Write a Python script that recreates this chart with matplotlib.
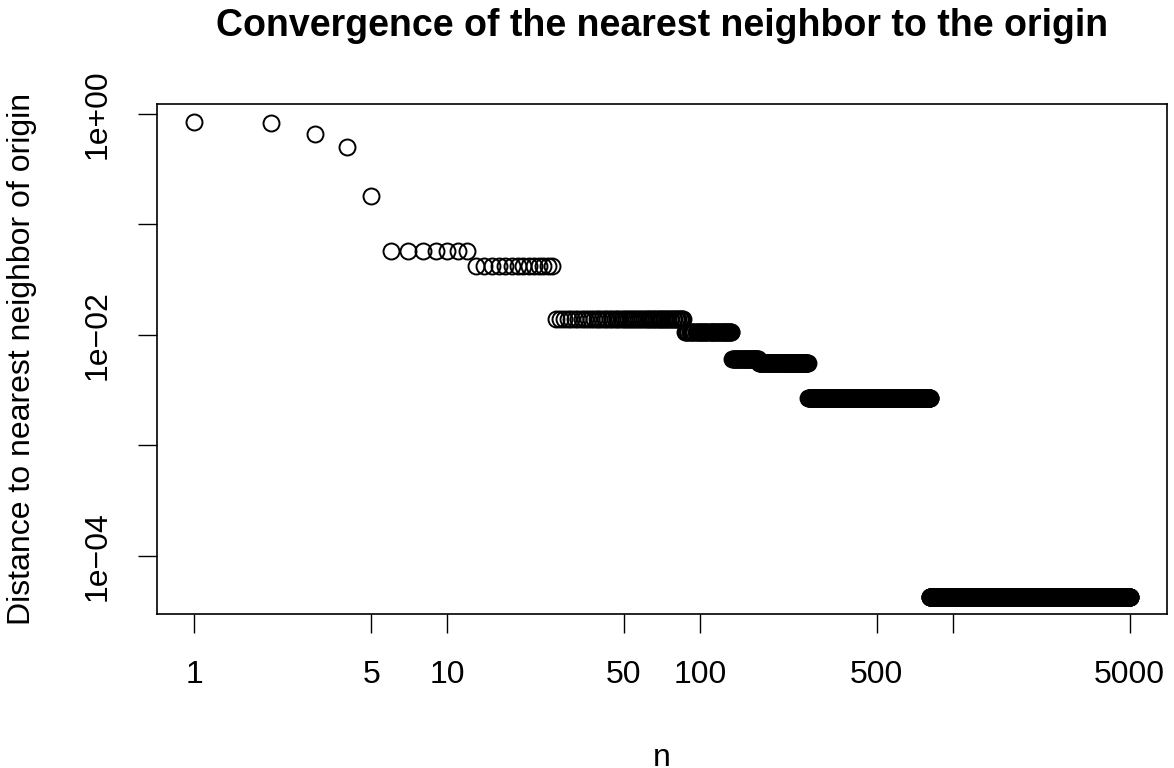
import numpy as np
import matplotlib.pyplot as plt

plt.rcParams['font.family'] = ['Liberation Sans', 'DejaVu Sans']

# Running nearest-neighbour distance: value held from each start index onward
step_start = [1, 2, 3, 4, 5, 6, 13, 27, 87, 134, 171, 268, 812]
step_value = [0.84, 0.835, 0.658, 0.498, 0.181, 0.0572, 0.0418, 0.0139,
              0.01057, 0.00601, 0.00553, 0.00266, 4.27e-5]
n_max = 5000

x_ticks = [1, 5, 10, 50, 100, 500, 1000, 5000]
x_tick_labels = ['1', '5', '10', '50', '100', '500', '', '5000']
y_ticks = [1e0, 1e-1, 1e-2, 1e-3, 1e-4]
y_tick_labels = ['1e+00', '', '1e\u221202', '', '1e\u221204']

# Expand the steps into one value per n
n = np.arange(1, n_max + 1)
counts = np.diff(step_start + [n_max + 1])
dist = np.repeat(step_value, counts)

W, H = 1174, 768
fig = plt.figure(figsize=(W / 100, H / 100), dpi=100)
ax = fig.add_axes([157 / W, (H - 614) / H, (1167 - 157) / W, (614 - 104) / H])

ax.plot(n, dist, linestyle='none', marker='o', markersize=11.5,
        markerfacecolor='none', markeredgecolor='black', markeredgewidth=1.4)

ax.set_xscale('log')
ax.set_yscale('log')
ax.set_xlim(10 ** -0.148, 10 ** 3.847)
ax.set_ylim(10 ** -4.527, 10 ** 0.091)
ax.minorticks_off()
ax.set_xticks(x_ticks)
ax.set_xticklabels(x_tick_labels)
ax.set_yticks(y_ticks)
ax.set_yticklabels(y_tick_labels, rotation=90, va='center')

ax.tick_params(direction='out', length=14, width=1.0, labelsize=23)
ax.tick_params(axis='x', pad=19)
ax.tick_params(axis='y', pad=18)
for s in ax.spines.values():
    s.set_linewidth(1.2)

ax.set_title('Convergence of the nearest neighbor to the origin',
             fontsize=27, fontweight='bold', pad=49)
ax.set_xlabel('n', fontsize=23, labelpad=38)
ax.set_ylabel('Distance to nearest neighbor of origin', fontsize=23, labelpad=33)

fig.savefig('out.png', dpi=100)
